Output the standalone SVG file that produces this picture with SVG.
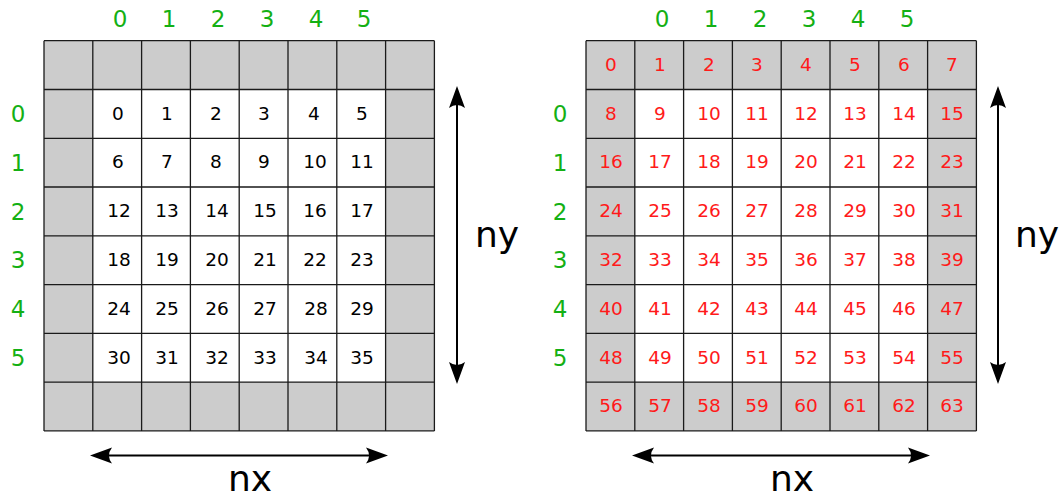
<svg xmlns="http://www.w3.org/2000/svg" width="1059" height="500" viewBox="0 0 1059 500">
<style>
.bg{fill:#cccccc;stroke:none}
.wh{fill:#ffffff;stroke:none}
.gl{stroke:#1a1a1a;stroke-width:1.3;fill:none}
.n{font-family:"DejaVu Sans",sans-serif;font-size:18.5px;text-anchor:middle;fill:#000}
.r{font-family:"DejaVu Sans",sans-serif;font-size:18.5px;text-anchor:middle;fill:#ff1a1a}
.g{font-family:"DejaVu Sans",sans-serif;font-size:23px;text-anchor:middle;fill:#14b014}
.big{font-family:"DejaVu Sans",sans-serif;font-size:36px;text-anchor:middle;fill:#000}
.ar{stroke:#000;stroke-width:2;fill:none}
</style>
<defs>
<marker id="ah" markerUnits="userSpaceOnUse" viewBox="-1 -10 26 20" refX="12" refY="0" markerWidth="26" markerHeight="20" orient="auto-start-reverse">
<path d="M22,0 L0,-8 Q6,0 0,8 Z" fill="#000"/>
</marker>
</defs>
<rect width="1059" height="500" fill="#fff"/>

<g id="left-grid">
<rect class="bg" x="44" y="40.7" width="390.4" height="390"/>
<rect class="wh" x="92.8" y="89.5" width="292.8" height="292.5"/>
<path class="gl" d="M44,40.7H434.4M44,89.5H434.4M44,138.3H434.4M44,187H434.4M44,235.8H434.4M44,284.6H434.4M44,333.3H434.4M44,382.1H434.4M44,430.9H434.4M44,40.7V430.9M92.8,40.7V430.9M141.6,40.7V430.9M190.4,40.7V430.9M239.2,40.7V430.9M288,40.7V430.9M336.8,40.7V430.9M385.6,40.7V430.9M434.4,40.7V430.9"/>
<g class="n">
<text x="118" y="120">0</text><text x="167" y="120">1</text><text x="216" y="120">2</text><text x="264" y="120">3</text><text x="314" y="120">4</text><text x="362" y="120">5</text>
<text x="118" y="168">6</text><text x="167" y="168">7</text><text x="216" y="168">8</text><text x="264" y="168">9</text><text x="315" y="168">10</text><text x="362" y="168">11</text>
<text x="119" y="217">12</text><text x="167" y="217">13</text><text x="217" y="217">14</text><text x="265" y="217">15</text><text x="315" y="217">16</text><text x="362" y="217">17</text>
<text x="119" y="266">18</text><text x="167" y="266">19</text><text x="217" y="266">20</text><text x="265" y="266">21</text><text x="315" y="266">22</text><text x="362" y="266">23</text>
<text x="119" y="315">24</text><text x="167" y="315">25</text><text x="217" y="315">26</text><text x="265" y="315">27</text><text x="316" y="315">28</text><text x="362" y="315">29</text>
<text x="119" y="364">30</text><text x="167" y="364">31</text><text x="217" y="364">32</text><text x="265" y="364">33</text><text x="316" y="364">34</text><text x="362" y="364">35</text>
</g>
<g class="g">
<text x="120" y="27">0</text><text x="169" y="27">1</text><text x="218" y="27">2</text><text x="267" y="27">3</text><text x="316" y="27">4</text><text x="364" y="27">5</text>
<text x="18" y="122">0</text><text x="18" y="171">1</text><text x="18" y="220">2</text><text x="18" y="268">3</text><text x="18" y="317">4</text><text x="18" y="366">5</text>
</g>
<text class="big" x="250" y="491">nx</text>
<text class="big" x="497" y="247">ny</text>
</g>

<g id="right-grid">
<rect class="bg" x="586" y="40.7" width="390.4" height="390"/>
<rect class="wh" x="634.8" y="89.5" width="292.8" height="292.5"/>
<path class="gl" d="M586,40.7H976.4M586,89.5H976.4M586,138.3H976.4M586,187H976.4M586,235.8H976.4M586,284.6H976.4M586,333.3H976.4M586,382.1H976.4M586,430.9H976.4M586,40.7V430.9M634.8,40.7V430.9M683.6,40.7V430.9M732.4,40.7V430.9M781.2,40.7V430.9M830,40.7V430.9M878.8,40.7V430.9M927.6,40.7V430.9M976.4,40.7V430.9"/>
<g class="r">
<text x="611" y="71">0</text><text x="660" y="71">1</text><text x="709" y="71">2</text><text x="757" y="71">3</text><text x="806" y="71">4</text><text x="855" y="71">5</text><text x="904" y="71">6</text><text x="952" y="71">7</text>
<text x="611" y="120">8</text><text x="660" y="120">9</text><text x="709" y="120">10</text><text x="757" y="120">11</text><text x="806" y="120">12</text><text x="855" y="120">13</text><text x="904" y="120">14</text><text x="952" y="120">15</text>
<text x="611" y="168">16</text><text x="660" y="168">17</text><text x="709" y="168">18</text><text x="757" y="168">19</text><text x="806" y="168">20</text><text x="855" y="168">21</text><text x="904" y="168">22</text><text x="952" y="168">23</text>
<text x="611" y="217">24</text><text x="660" y="217">25</text><text x="709" y="217">26</text><text x="757" y="217">27</text><text x="806" y="217">28</text><text x="855" y="217">29</text><text x="904" y="217">30</text><text x="952" y="217">31</text>
<text x="611" y="266">32</text><text x="660" y="266">33</text><text x="709" y="266">34</text><text x="757" y="266">35</text><text x="806" y="266">36</text><text x="855" y="266">37</text><text x="904" y="266">38</text><text x="952" y="266">39</text>
<text x="611" y="315">40</text><text x="660" y="315">41</text><text x="709" y="315">42</text><text x="757" y="315">43</text><text x="806" y="315">44</text><text x="855" y="315">45</text><text x="904" y="315">46</text><text x="952" y="315">47</text>
<text x="611" y="364">48</text><text x="660" y="364">49</text><text x="709" y="364">50</text><text x="757" y="364">51</text><text x="806" y="364">52</text><text x="855" y="364">53</text><text x="904" y="364">54</text><text x="952" y="364">55</text>
<text x="611" y="412">56</text><text x="660" y="412">57</text><text x="709" y="412">58</text><text x="757" y="412">59</text><text x="806" y="412">60</text><text x="855" y="412">61</text><text x="904" y="412">62</text><text x="952" y="412">63</text>
</g>
<g class="g">
<text x="662" y="27">0</text><text x="711" y="27">1</text><text x="760" y="27">2</text><text x="809" y="27">3</text><text x="858" y="27">4</text><text x="907" y="27">5</text>
<text x="560" y="122">0</text><text x="560" y="171">1</text><text x="560" y="220">2</text><text x="560" y="268">3</text><text x="560" y="317">4</text><text x="560" y="366">5</text>
</g>
<text class="big" x="792" y="491">nx</text>
<text class="big" x="1037" y="247">ny</text>
</g>

<g id="connectors">
<line class="ar" x1="457" y1="96" x2="457" y2="374" marker-start="url(#ah)" marker-end="url(#ah)"/>
<line class="ar" x1="100" y1="455.5" x2="378" y2="455.5" marker-start="url(#ah)" marker-end="url(#ah)"/>
<line class="ar" x1="998" y1="96" x2="998" y2="374" marker-start="url(#ah)" marker-end="url(#ah)"/>
<line class="ar" x1="642" y1="455.5" x2="920" y2="455.5" marker-start="url(#ah)" marker-end="url(#ah)"/>
</g>
</svg>
